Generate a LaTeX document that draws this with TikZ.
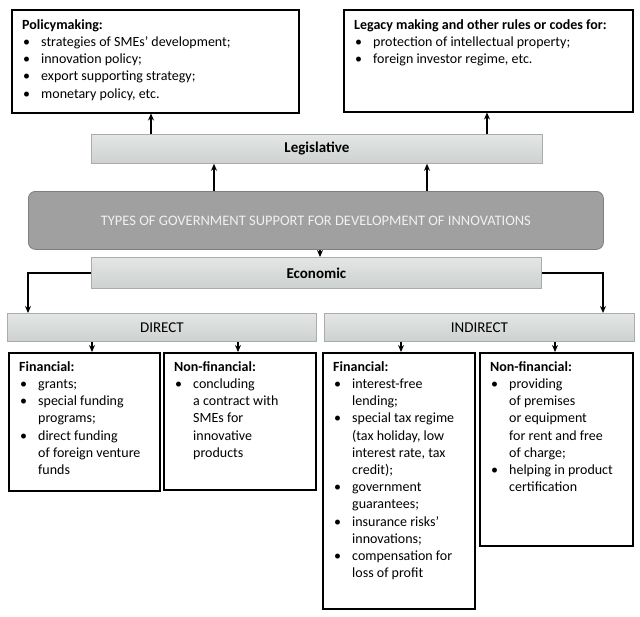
\documentclass[tikz,border=0pt]{standalone}
\usepackage{fontspec}
\setmainfont{Carlito}
\usetikzlibrary{arrows.meta,calc}
\newcommand\bu{\makebox[19pt][l]{\hspace{1pt}\textbullet}}
\newcommand\hd[1]{\multicolumn{2}{@{}l@{}}{\textbf{#1}}}
\newenvironment{lst}{\begin{tabular}{@{}l@{}l@{}}}{\end{tabular}}
\definecolor{bartop}{HTML}{E3E6E5}
\definecolor{barbot}{HTML}{CDD1D0}
\definecolor{bardraw}{HTML}{A9ACAB}
\definecolor{cenfill}{HTML}{A0A0A0}
\definecolor{cendraw}{HTML}{7E7E7E}
\definecolor{centext}{HTML}{F0F0F0}
\tikzset{
  x=1pt, y=-1pt,
  box/.style={draw=black, line width=1.5pt, fill=white, minimum width=#1, anchor=north west, inner sep=0pt},
  bar/.style={draw=bardraw, line width=0.8pt, top color=bartop, bottom color=barbot, anchor=north west, inner sep=0pt},
  body/.style={font=\fontsize{14}{17.2}\selectfont, anchor=north west, inner sep=0pt},
  lbl/.style={font=\fontsize{15}{17}\selectfont},
  arr/.style={line width=1.3pt, -{Stealth[length=7pt,width=6pt]}},
}
\begin{document}
\begin{tikzpicture}
\useasboundingbox (0,0) rectangle (640,616);
% top boxes
\node[box=287pt, minimum height=103pt] (pol) at (11,9) {};
\node[body] (polt) at (22,17) {\begin{lst}
\hd{Policymaking:}\\
\bu & strategies of SMEs’ development;\\
\bu & innovation policy;\\
\bu & export supporting strategy;\\
\bu & monetary policy, etc.
\end{lst}};
\node[box=289pt, minimum height=102pt] (leg2) at (343,9) {};
\node[body] (leg2t) at (354,17) {\begin{lst}
\hd{Legacy making and other rules or codes for:}\\
\bu & protection of intellectual property;\\
\bu & foreign investor regime, etc.
\end{lst}};
% legislative bar
\node[bar, minimum width=451pt, minimum height=29pt] (leg) at (91,134) {};
\node[lbl] (legl) at (leg.center) {\textbf{Legislative}};
% central
\node[draw=cendraw, line width=0.8pt, fill=cenfill, rounded corners=7pt, minimum width=575pt, minimum height=58pt, anchor=north west, inner sep=0pt] (cen) at (28,191) {};
\node[font=\fontsize{14.5}{17}\selectfont, text=centext] (cenl) at (cen.center) {TYPES OF GOVERNMENT SUPPORT FOR DEVELOPMENT OF INNOVATIONS};
% economic bar
\node[bar, minimum width=450pt, minimum height=31pt] (eco) at (91,257) {};
\node[lbl] (ecol) at (eco.center) {\textbf{Economic}};
% direct / indirect
\node[bar, minimum width=309pt, minimum height=28pt] (dir) at (7,313) {};
\node[lbl] (dirl) at (dir.center) {DIRECT};
\node[bar, minimum width=310pt, minimum height=28pt] (ind) at (324,313) {};
\node[lbl] (indl) at (ind.center) {INDIRECT};
% bottom boxes
\node[box=151pt, minimum height=138pt] (b1) at (8,352) {};
\node[body] (b1t) at (19,359) {\begin{lst}
\hd{Financial:}\\
\bu & grants;\\
\bu & special funding\\
    & programs;\\
\bu & direct funding\\
    & of foreign venture\\
    & funds
\end{lst}};
\node[box=152pt, minimum height=137pt] (b2) at (163,352) {};
\node[body] (b2t) at (174,359) {\begin{lst}
\hd{Non-financial:}\\
\bu & concluding\\
    & a contract with\\
    & SMEs for\\
    & innovative\\
    & products
\end{lst}};
\node[box=152pt, minimum height=256pt] (b3) at (322,352) {};
\node[body] (b3t) at (333,359) {\begin{lst}
\hd{Financial:}\\
\bu & interest-free\\
    & lending;\\
\bu & special tax regime\\
    & (tax holiday, low\\
    & interest rate, tax\\
    & credit);\\
\bu & government\\
    & guarantees;\\
\bu & insurance risks’\\
    & innovations;\\
\bu & compensation for\\
    & loss of profit
\end{lst}};
\node[box=153pt, minimum height=193pt] (b4) at (479,352) {};
\node[body] (b4t) at (490,359) {\begin{lst}
\hd{Non-financial:}\\
\bu & providing\\
    & of premises\\
    & or equipment\\
    & for rent and free\\
    & of charge;\\
\bu & helping in product\\
    & certification
\end{lst}};
% connector anchor coordinates
\coordinate (u1) at (151,0);
\coordinate (u2) at (487,0);
\coordinate (c1) at (214,0);
\coordinate (c2) at (427,0);
\coordinate (c3) at (320,0);
\coordinate (el) at (28,0);
\coordinate (er) at (603,0);
\coordinate (d1) at (92,0);
\coordinate (d2) at (238,0);
\coordinate (d3) at (401,0);
\coordinate (d4) at (555,0);
% connectors
\draw[arr] (leg.north -| u1) -- (pol.south -| u1);
\draw[arr] (leg.north -| u2) -- (leg2.south -| u2);
\draw[arr] (cen.north -| c1) -- (leg.south -| c1);
\draw[arr] (cen.north -| c2) -- (leg.south -| c2);
\draw[arr] (cen.south -| c3) -- (eco.north -| c3);
\draw[arr] (eco.west) -| (dir.north -| el);
\draw[arr] (eco.east) -| (ind.north -| er);
\draw[arr] (dir.south -| d1) -- (b1.north -| d1);
\draw[arr] (dir.south -| d2) -- (b2.north -| d2);
\draw[arr] (ind.south -| d3) -- (b3.north -| d3);
\draw[arr] (ind.south -| d4) -- (b4.north -| d4);
\end{tikzpicture}
\end{document}
